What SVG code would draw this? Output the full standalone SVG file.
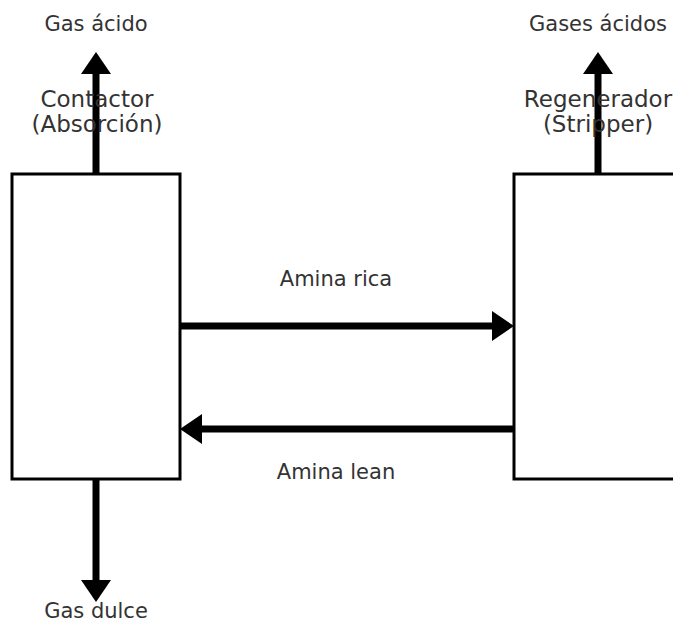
<svg xmlns="http://www.w3.org/2000/svg" width="673" height="623" viewBox="0 0 673 623">
<defs>
<style>
.box{fill:#fff;stroke:#000;stroke-width:3}
.flow{stroke:#000;stroke-width:7;fill:none;marker-end:url(#head)}
.lbl{font-family:"DejaVu Sans",sans-serif;fill:#333;text-anchor:middle}
.node{font-size:23px}
.edge{font-size:21px}
</style>
<marker id="head" viewBox="0 -15 22 30" refX="0" refY="0" markerWidth="22" markerHeight="30" markerUnits="userSpaceOnUse" orient="auto">
<path d="M0,-15 L22,0 L0,15 Z" fill="#000"/>
</marker>
</defs>
<rect width="673" height="623" fill="#fff"/>
<g id="contactor">
<rect class="box" x="12" y="174" width="168" height="305"/>
</g>
<g id="regenerador">
<rect class="box" x="514" y="174" width="175" height="305"/>
</g>
<g id="connectors">
<line class="flow" x1="96" y1="174" x2="96" y2="74"/>
<line class="flow" x1="598" y1="174" x2="598" y2="74"/>
<line class="flow" x1="180" y1="326" x2="492" y2="326"/>
<line class="flow" x1="514" y1="429" x2="202" y2="429"/>
<line class="flow" x1="96" y1="479" x2="96" y2="580"/>
</g>
<g id="labels">
<text class="lbl node" x="97" y="107">Contactor</text>
<text class="lbl node" x="97" y="132">(Absorción)</text>
<text class="lbl node" x="598" y="107">Regenerador</text>
<text class="lbl node" x="598" y="132">(Stripper)</text>
<text class="lbl edge" x="96" y="31">Gas ácido</text>
<text class="lbl edge" x="598" y="31">Gases ácidos</text>
<text class="lbl edge" x="336" y="286">Amina rica</text>
<text class="lbl edge" x="336" y="479">Amina lean</text>
<text class="lbl edge" x="96" y="618">Gas dulce</text>
</g>
</svg>
